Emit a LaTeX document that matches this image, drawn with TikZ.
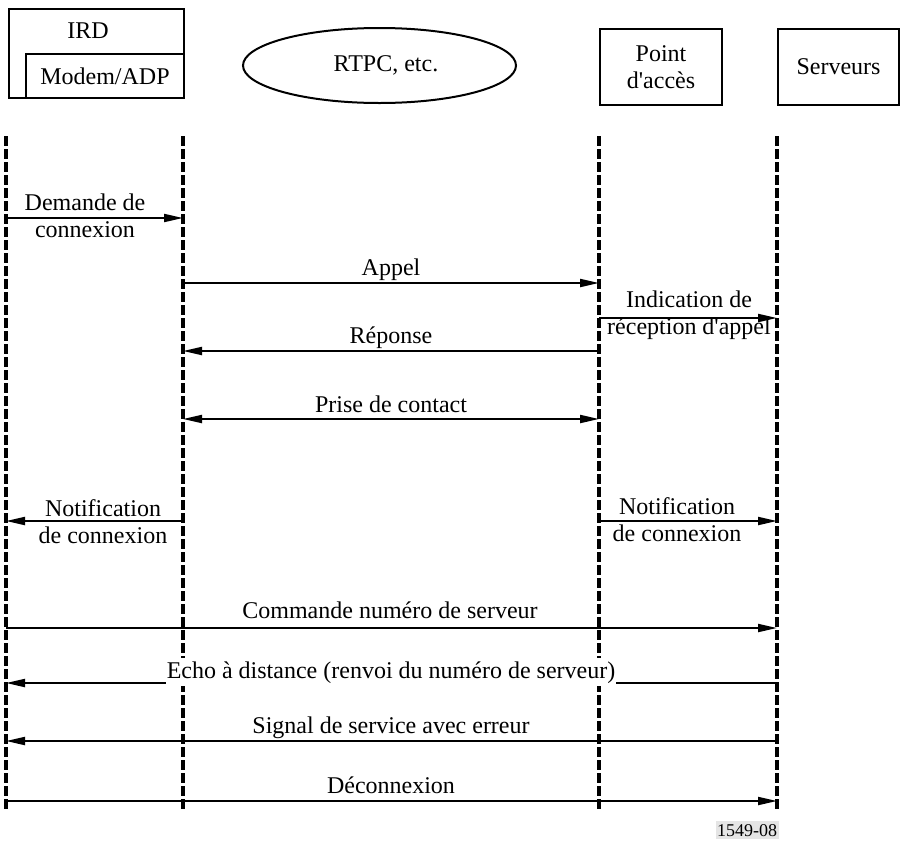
\documentclass[tikz,border=0pt]{standalone}
\usepackage{fontspec}
\setmainfont{Liberation Serif}
\usetikzlibrary{arrows.meta,shapes.geometric}
\newcommand{\apos}{\textquotesingle}
\begin{document}
\begin{tikzpicture}[x=1pt,y=-1pt,
  font=\fontsize{24}{26.5}\selectfont,
  box/.style={draw,line width=2pt,inner sep=0pt,align=center},
  life/.style={line width=3.3pt,dash pattern=on 10pt off 3pt},
  msg/.style={line width=2pt,-{Triangle[length=19pt,width=8pt]}},
  dmsg/.style={line width=2pt,{Triangle[length=19pt,width=8pt]}-{Triangle[length=19pt,width=8pt]}},
  lbl/.style={anchor=base,inner sep=0pt,align=center}]
\useasboundingbox (0,0) rectangle (901,841);

% header boxes
\node[box,anchor=north west,minimum width=175.5pt,minimum height=89pt] (ird) at (7.5,8) {};
\node[lbl] (irdlbl) at (88,38) {IRD};
\node[box,anchor=north west,minimum width=158pt,minimum height=44pt] (modem) at (25,53) {Modem/ADP};
\node[box,ellipse,minimum width=273pt,minimum height=75pt] (rtpc) at (379.5,65.5) {};
\node[inner sep=0pt] (rtpclbl) at (386,65.5) {RTPC, etc.};
\node[box,anchor=north west,minimum width=122pt,minimum height=76pt] (pa) at (599,28) {Point\\d\apos accès};
\node[box,anchor=north west,minimum width=121pt,minimum height=76pt] (srv) at (777,28) {Serveurs};

% lifelines
\coordinate (l1) at (6,136);   \coordinate (l1b) at (6,809);
\coordinate (l2) at (183,136); \coordinate (l2b) at (183,809);
\coordinate (l3) at (599,136); \coordinate (l3b) at (599,809);
\coordinate (l4) at (777,136); \coordinate (l4b) at (777,809);
\draw[life] (l1) -- (l1b);
\draw[life] (l2) -- (l2b);
\draw[life] (l3) -- (l3b);
\draw[life] (l4) -- (l4b);

% message rows
\coordinate (r1) at (0,218);
\coordinate (r2) at (0,283);
\coordinate (r3) at (0,318);
\coordinate (r4) at (0,351);
\coordinate (r5) at (0,419);
\coordinate (r6) at (0,521);
\coordinate (r7) at (0,628);
\coordinate (r8) at (0,683);
\coordinate (r9) at (0,741);
\coordinate (r10) at (0,801);

\draw[msg] (l1 |- r1) -- (l2 |- r1);
\node[lbl] (t1) at (85,237) {Demande de\\connexion};

\draw[msg] (l2 |- r2) -- (l3 |- r2);
\node[lbl] (t2) at (391,275) {Appel};

\draw[msg] (l3 |- r3) -- (l4 |- r3);
\node[lbl] (t3) at (689,334) {Indication de\\réception d\apos appel};

\draw[msg] (l3 |- r4) -- (l2 |- r4);
\node[lbl] (t4) at (391,343) {Réponse};

\draw[dmsg] (l2 |- r5) -- (l3 |- r5);
\node[lbl] (t5) at (391,412) {Prise de contact};

\draw[msg] (l2 |- r6) -- (l1 |- r6);
\node[lbl] (t6a) at (103,543) {Notification\\de connexion};

\draw[msg] (l3 |- r6) -- (l4 |- r6);
\node[lbl] (t6b) at (677,541) {Notification\\de connexion};

\draw[msg] (l1 |- r7) -- (l4 |- r7);
\node[lbl] (t7) at (390,618) {Commande numéro de serveur};

\draw[msg] (l4 |- r8) -- (l1 |- r8);
\node[lbl,fill=white,inner xsep=1pt,inner ysep=3pt] (t8) at (391,678) {Echo à distance (renvoi du numéro de serveur)};

\draw[msg] (l4 |- r9) -- (l1 |- r9);
\node[lbl] (t9) at (391,733) {Signal de service avec erreur};

\draw[msg] (l1 |- r10) -- (l4 |- r10);
\node[lbl] (t10) at (391,793) {Déconnexion};

\node[anchor=base,fill=black!10,inner xsep=1.5pt,inner ysep=3pt,font=\fontsize{18}{20}\selectfont] (fig) at (747,836) {1549-08};
\end{tikzpicture}
\end{document}
